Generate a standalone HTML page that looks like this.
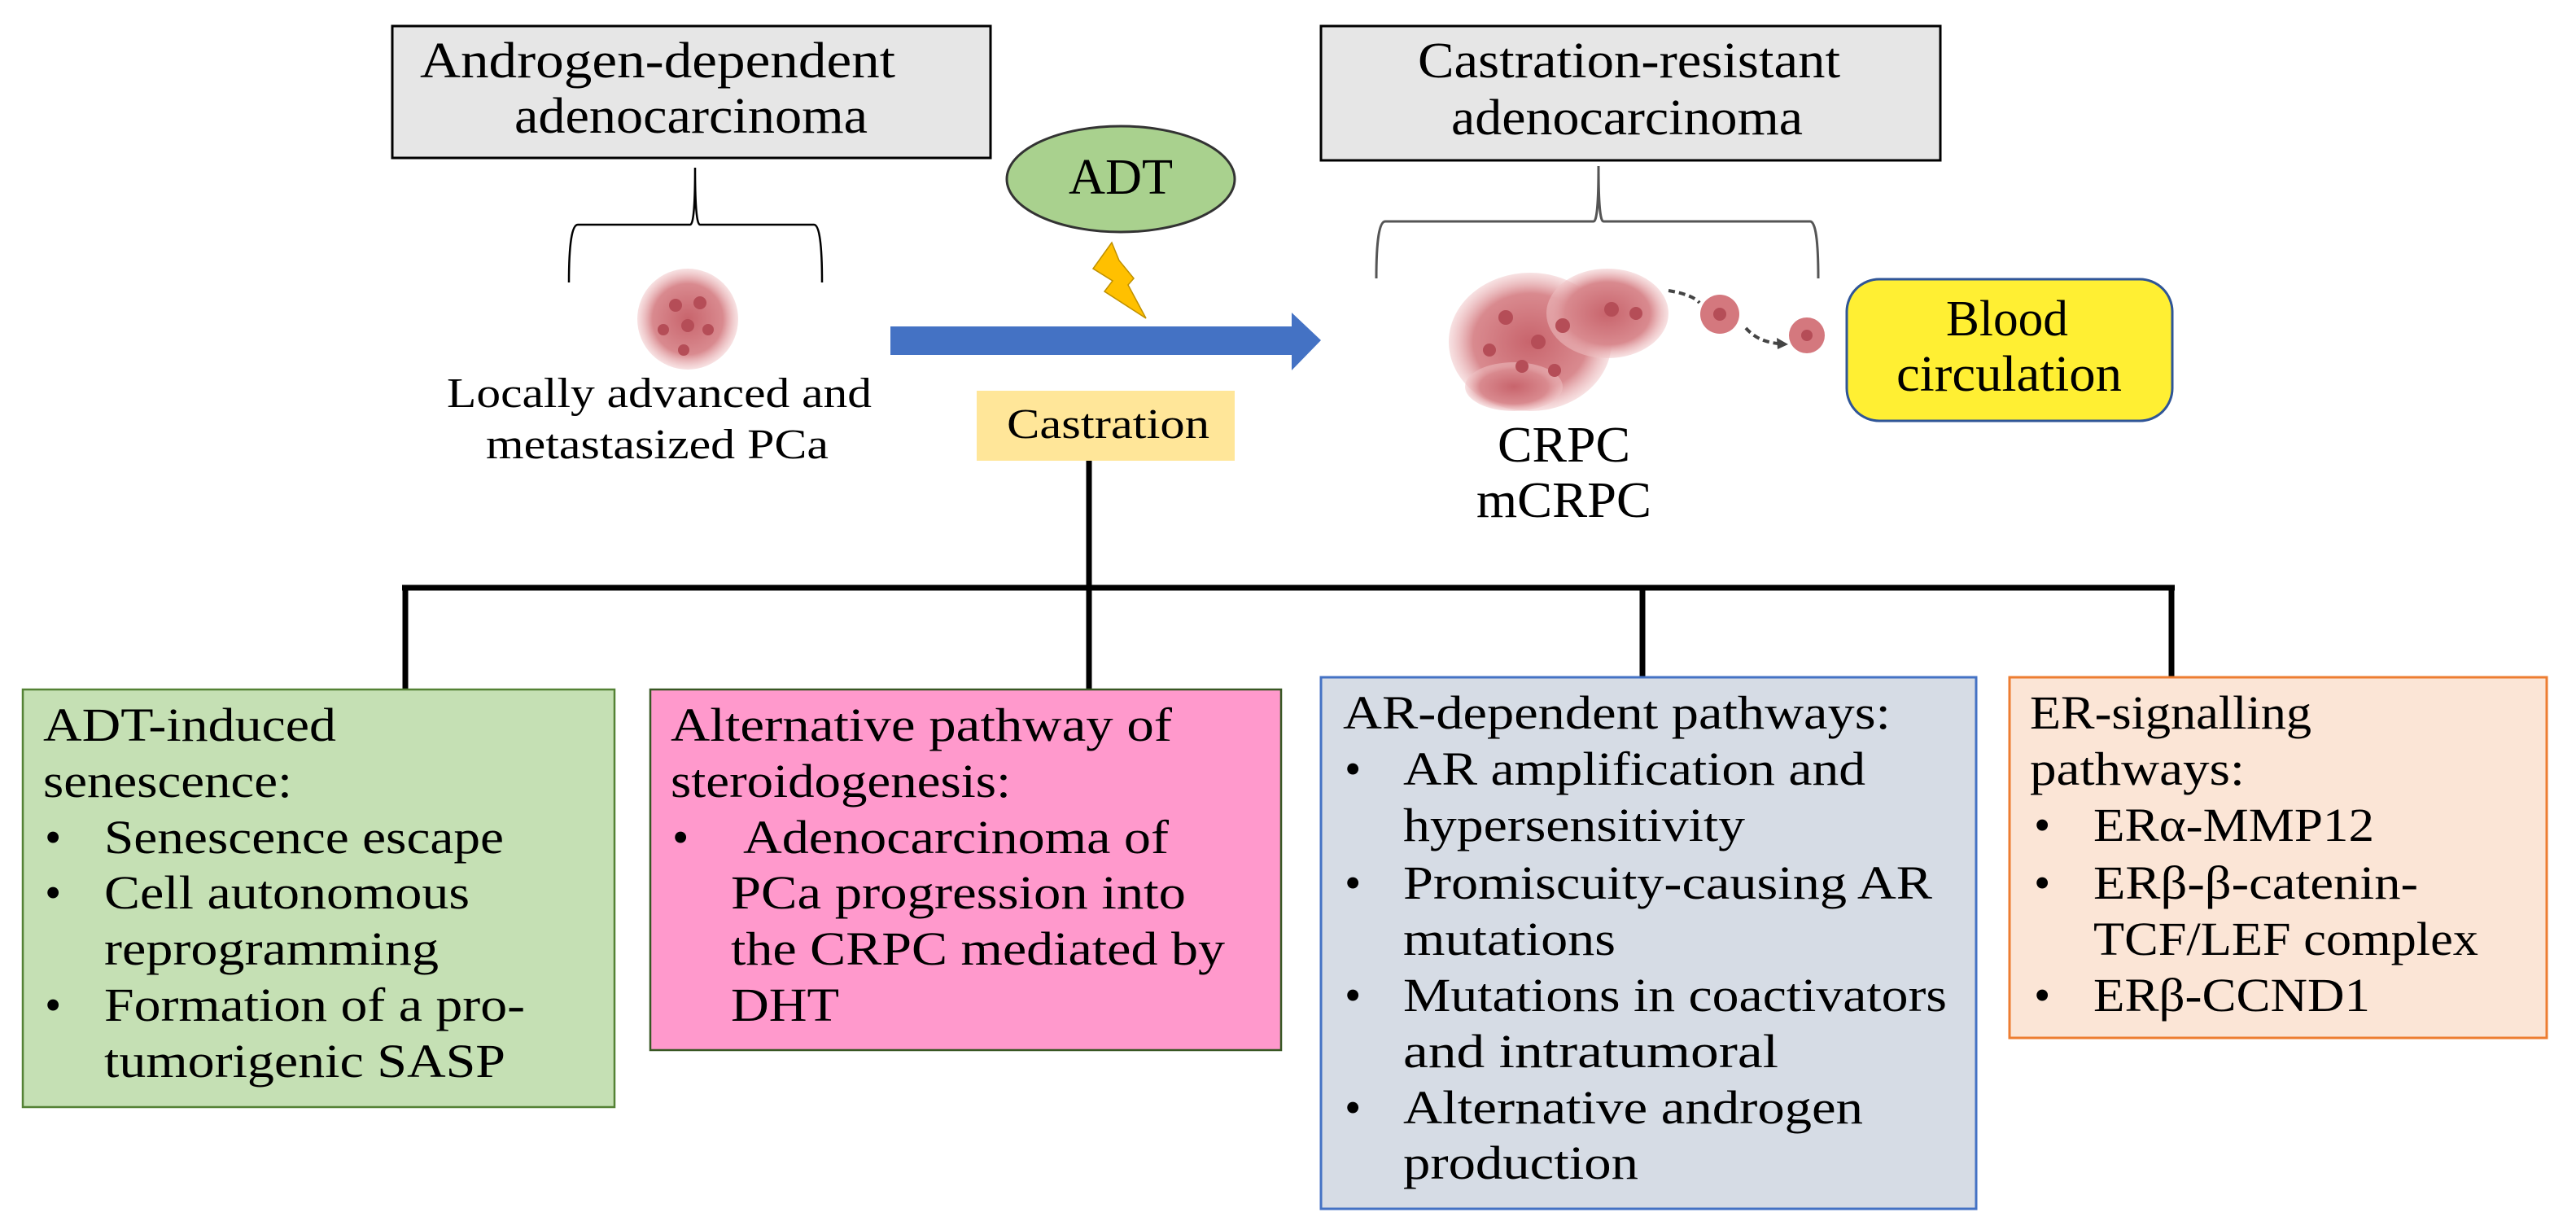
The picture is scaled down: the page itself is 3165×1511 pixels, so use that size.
<!DOCTYPE html>
<html><head><meta charset="utf-8"><style>
html,body{margin:0;padding:0;background:#fff;}
svg{display:block;}
text{font-family:"Liberation Serif","DejaVu Serif",serif;fill:#000;}
</style></head><body>
<svg width="3165" height="1511" viewBox="0 0 3165 1511" xmlns="http://www.w3.org/2000/svg" font-family="Liberation Serif, DejaVu Serif, serif">
<defs>
<radialGradient id="cg" cx="50%" cy="50%" r="50%">
<stop offset="0%" stop-color="#c8646c"/><stop offset="70%" stop-color="#d98a8f"/><stop offset="100%" stop-color="#f0c4c6" stop-opacity="0.5"/>
</radialGradient>
</defs>
<rect x="482" y="32" width="735" height="162" fill="#e6e6e6" stroke="#000" stroke-width="3"/>
<text x="516" y="95" font-size="62" textLength="584" lengthAdjust="spacingAndGlyphs">Androgen-dependent</text>
<text x="632" y="163" font-size="62" textLength="434" lengthAdjust="spacingAndGlyphs">adenocarcinoma</text>
<rect x="1623" y="32" width="761" height="165" fill="#e6e6e6" stroke="#000" stroke-width="3"/>
<text x="1742" y="95" font-size="62" textLength="519" lengthAdjust="spacingAndGlyphs">Castration-resistant</text>
<text x="1783" y="165" font-size="62" textLength="432" lengthAdjust="spacingAndGlyphs">adenocarcinoma</text>
<path d="M699 347 Q699 276 710 276 L848 276 Q854 276 854 206 Q854 276 860 276 L1000 276 Q1010 276 1010 347" fill="none" stroke="#000" stroke-width="2.5"/>
<path d="M1691 342 Q1691 272 1702 272 L1958 272 Q1964 272 1964 204 Q1964 272 1970 272 L2224 272 Q2234 272 2234 342" fill="none" stroke="#555" stroke-width="3"/>
<circle cx="845" cy="392" r="62" fill="url(#cg)"/>
<g fill="#b54d57"><circle cx="830" cy="375" r="8"/><circle cx="860" cy="372" r="8"/><circle cx="845" cy="400" r="8"/><circle cx="815" cy="405" r="7"/><circle cx="870" cy="405" r="7"/><circle cx="840" cy="430" r="7"/></g>
<ellipse cx="1880" cy="420" rx="100" ry="85" fill="url(#cg)"/>
<ellipse cx="1975" cy="385" rx="75" ry="55" fill="url(#cg)"/>
<ellipse cx="1860" cy="475" rx="60" ry="30" fill="url(#cg)"/>
<g fill="#b54d57"><circle cx="1850" cy="390" r="9"/><circle cx="1890" cy="420" r="9"/><circle cx="1920" cy="400" r="9"/><circle cx="1980" cy="380" r="9"/><circle cx="2010" cy="385" r="8"/><circle cx="1870" cy="450" r="8"/><circle cx="1910" cy="455" r="8"/><circle cx="1830" cy="430" r="8"/></g>
<circle cx="2113" cy="386" r="24" fill="#d4787e"/><circle cx="2113" cy="386" r="8" fill="#b54d57"/>
<circle cx="2220" cy="412" r="22" fill="#d4787e"/><circle cx="2220" cy="412" r="7" fill="#b54d57"/>
<path d="M2050 357 Q2080 362 2088 372" fill="none" stroke="#444" stroke-width="4" stroke-dasharray="8 5"/>
<path d="M2145 403 Q2160 420 2185 422" fill="none" stroke="#444" stroke-width="4" stroke-dasharray="8 5"/>
<polygon points="2197,423 2183,415 2184,429" fill="#444"/>
<text x="549" y="500" font-size="52" textLength="522" lengthAdjust="spacingAndGlyphs">Locally advanced and</text>
<text x="597" y="563" font-size="52" textLength="421" lengthAdjust="spacingAndGlyphs">metastasized PCa</text>
<text x="1840" y="567" font-size="62" textLength="163" lengthAdjust="spacingAndGlyphs">CRPC</text>
<text x="1814" y="635" font-size="62" textLength="215" lengthAdjust="spacingAndGlyphs">mCRPC</text>
<ellipse cx="1377" cy="220" rx="140" ry="65" fill="#a9d18e" stroke="#333" stroke-width="3"/>
<text x="1313" y="238" font-size="62" textLength="128" lengthAdjust="spacingAndGlyphs">ADT</text>
<polygon points="1366,298 1343,330 1367,345 1357,358 1408,391 1386,350 1393,342 1375,320" fill="#ffc000" stroke="#bf9000" stroke-width="1.5"/>
<polygon points="1094,401 1587,401 1587,384 1623,418 1587,455 1587,436 1094,436" fill="#4472c4"/>
<rect x="1200" y="480" width="317" height="86" fill="#ffe699"/>
<text x="1237" y="538" font-size="52" textLength="249" lengthAdjust="spacingAndGlyphs">Castration</text>
<rect x="2269" y="343" width="400" height="174" rx="40" fill="#ffef33" stroke="#2f5597" stroke-width="3"/>
<text x="2391" y="412" font-size="62" textLength="150" lengthAdjust="spacingAndGlyphs">Blood</text>
<text x="2330" y="480" font-size="62" textLength="277" lengthAdjust="spacingAndGlyphs">circulation</text>
<g stroke="#000" stroke-width="7" fill="none">
<line x1="1338" y1="566" x2="1338" y2="847"/>
<line x1="494" y1="722" x2="2672" y2="722"/>
<line x1="498" y1="722" x2="498" y2="847"/>
<line x1="2018" y1="722" x2="2018" y2="832"/>
<line x1="2668" y1="722" x2="2668" y2="832"/>
</g>
<rect x="28" y="847" width="727" height="513" fill="#c5e0b4" stroke="#548235" stroke-width="2.5"/>
<g font-size="58" lengthAdjust="spacingAndGlyphs">
<text x="53" y="910" textLength="360" lengthAdjust="spacingAndGlyphs">ADT-induced</text>
<text x="53" y="979" textLength="306" lengthAdjust="spacingAndGlyphs">senescence:</text>
<text x="55" y="1048">•</text><text x="128" y="1048" textLength="491" lengthAdjust="spacingAndGlyphs">Senescence escape</text>
<text x="55" y="1116">•</text><text x="128" y="1116" textLength="449" lengthAdjust="spacingAndGlyphs">Cell autonomous</text>
<text x="128" y="1185" textLength="411" lengthAdjust="spacingAndGlyphs">reprogramming</text>
<text x="55" y="1254">•</text><text x="128" y="1254" textLength="517" lengthAdjust="spacingAndGlyphs">Formation of a pro-</text>
<text x="128" y="1323" textLength="493" lengthAdjust="spacingAndGlyphs">tumorigenic SASP</text>
</g>
<rect x="799" y="847" width="775" height="443" fill="#ff99cc" stroke="#385723" stroke-width="2.5"/>
<g font-size="58">
<text x="824" y="910" textLength="616" lengthAdjust="spacingAndGlyphs">Alternative pathway of</text>
<text x="824" y="979" textLength="418" lengthAdjust="spacingAndGlyphs">steroidogenesis:</text>
<text x="826" y="1048">•</text><text x="913" y="1048" textLength="523" lengthAdjust="spacingAndGlyphs">Adenocarcinoma of</text>
<text x="898" y="1116" textLength="559" lengthAdjust="spacingAndGlyphs">PCa progression into</text>
<text x="898" y="1185" textLength="607" lengthAdjust="spacingAndGlyphs">the CRPC mediated by</text>
<text x="898" y="1254" textLength="133" lengthAdjust="spacingAndGlyphs">DHT</text>
</g>
<rect x="1623" y="832" width="805" height="653" fill="#d6dce5" stroke="#4472c4" stroke-width="3"/>
<g font-size="58">
<text x="1650" y="895" textLength="673" lengthAdjust="spacingAndGlyphs">AR-dependent pathways:</text>
<text x="1652" y="964">•</text><text x="1724" y="964" textLength="568" lengthAdjust="spacingAndGlyphs">AR amplification  and</text>
<text x="1724" y="1033" textLength="420" lengthAdjust="spacingAndGlyphs">hypersensitivity</text>
<text x="1652" y="1104">•</text><text x="1724" y="1104" textLength="650" lengthAdjust="spacingAndGlyphs">Promiscuity-causing  AR</text>
<text x="1724" y="1173" textLength="261" lengthAdjust="spacingAndGlyphs">mutations</text>
<text x="1652" y="1242">•</text><text x="1724" y="1242" textLength="668" lengthAdjust="spacingAndGlyphs">Mutations in coactivators</text>
<text x="1724" y="1311" textLength="461" lengthAdjust="spacingAndGlyphs">and  intratumoral</text>
<text x="1652" y="1380">•</text><text x="1724" y="1380" textLength="565" lengthAdjust="spacingAndGlyphs">Alternative androgen</text>
<text x="1724" y="1448" textLength="289" lengthAdjust="spacingAndGlyphs">production</text>
</g>
<rect x="2469" y="832" width="660" height="443" fill="#fbe5d6" stroke="#ed7d31" stroke-width="3"/>
<g font-size="58">
<text x="2494" y="895" textLength="346" lengthAdjust="spacingAndGlyphs">ER-signalling</text>
<text x="2494" y="964" textLength="264" lengthAdjust="spacingAndGlyphs">pathways:</text>
<text x="2499" y="1033">•</text><text x="2572" y="1033" textLength="345" lengthAdjust="spacingAndGlyphs">ERα-MMP12</text>
<text x="2499" y="1104">•</text><text x="2572" y="1104" textLength="399" lengthAdjust="spacingAndGlyphs">ERβ-β-catenin-</text>
<text x="2572" y="1173" textLength="473" lengthAdjust="spacingAndGlyphs">TCF/LEF complex</text>
<text x="2499" y="1242">•</text><text x="2572" y="1242" textLength="340" lengthAdjust="spacingAndGlyphs">ERβ-CCND1</text>
</g>
</svg>
</body></html>
